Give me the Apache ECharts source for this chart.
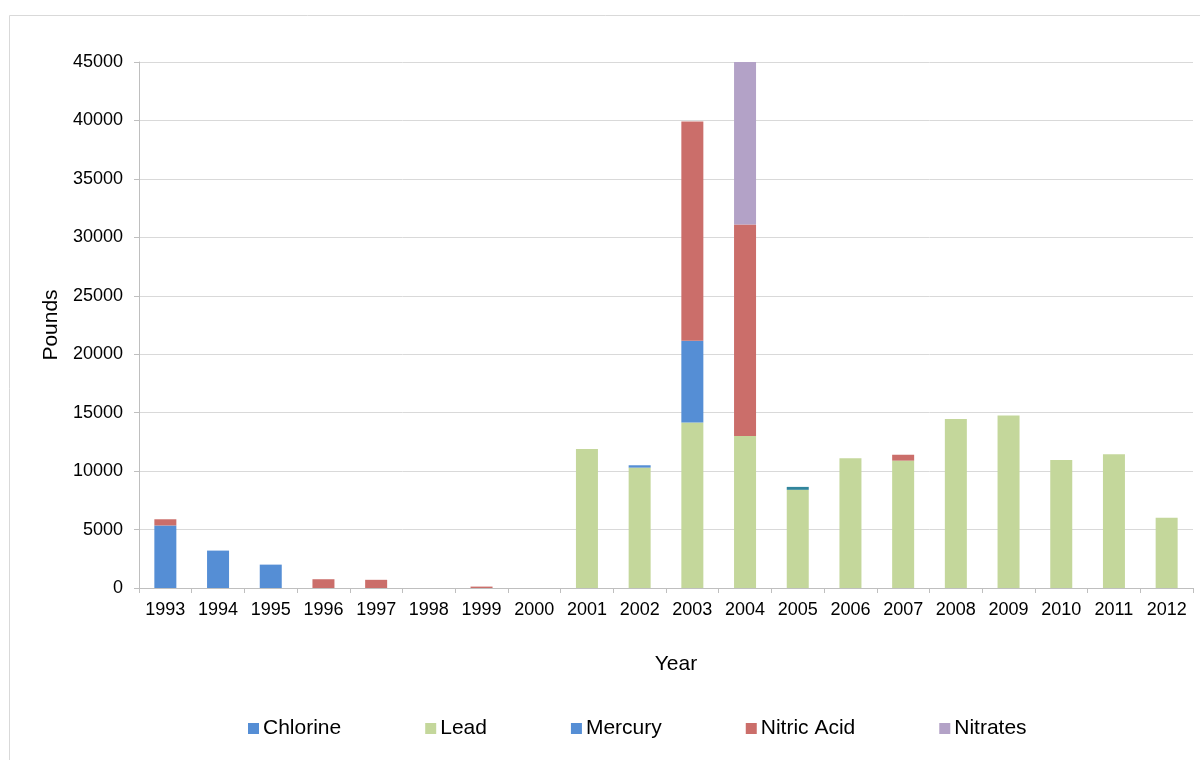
<!DOCTYPE html>
<html>
<head>
<meta charset="utf-8">
<script src="https://cdn.jsdelivr.net/npm/echarts@6/dist/echarts.min.js"></script>
<style>
html,body{margin:0;padding:0;background:#fff;}
#chart{width:1200px;height:760px;}
</style>
</head>
<body>
<div id="chart"></div>
<script>
const years = ['1993','1994','1995','1996','1997','1998','1999','2000','2001','2002','2003','2004','2005','2006','2007','2008','2009','2010','2011','2012'];
const chlorine = [5350,3200,2000,0,0,0,0,0,0,0,0,0,0,0,0,0,0,0,0,0];
const lead     = [0,0,0,0,0,0,0,0,11900,10300,14150,13000,8400,11100,10900,14450,14750,10950,11450,6000];
const mercury  = [0,0,0,0,0,0,0,0,0,200,7000,0,250,0,0,0,0,0,0,0];
const nitricAcid = [530,0,0,750,700,0,120,0,0,0,18750,18100,0,0,500,0,0,0,0,0];
const nitrates = [0,0,0,0,0,0,0,0,0,0,0,13900,0,0,0,0,0,0,0,0];
const yTicks = [0,5000,10000,15000,20000,25000,30000,35000,40000,45000];

const colors = {
  'Chlorine': '#558ED5',
  'Lead': '#C4D79B',
  'Mercury': '#558ED5',
  'Nitric Acid': '#CB6E6A',
  'Nitrates': '#B3A2C7'
};
const specialMercuryColor = {'2005': '#31859C'};

const chart = echarts.init(document.getElementById('chart'));
const font = 'Liberation Sans, Arial, sans-serif';

function mk(name, arr, special) {
  return {
    name: name,
    type: 'bar',
    stack: 'total',
    barWidth: 22,
    itemStyle: {color: colors[name]},
    emphasis: {disabled: true},
    data: arr.map((v, i) => {
      if (special && special[years[i]]) {
        return {value: v, itemStyle: {color: special[years[i]]}};
      }
      return v;
    })
  };
}

chart.setOption({
  animation: false,
  textStyle: {fontFamily: font},
  graphic: [{
    type: 'rect',
    shape: {x: 9.5, y: 15.5, width: 1200, height: 760},
    style: {fill: 'none', stroke: '#D9D9D9', lineWidth: 1},
    silent: true
  }],
  grid: {left: 139, right: 7, top: 62, bottom: 172, containLabel: false},
  legend: {
    left: 243,
    top: 713,
    itemWidth: 11,
    itemHeight: 11,
    itemGap: 84,
    icon: 'rect',
    textStyle: {fontSize: 21, color: '#000', fontFamily: font, padding: [0,0,0,-1]},
    data: ['Chlorine','Lead','Mercury','Nitric Acid','Nitrates']
  },
  xAxis: {
    type: 'category',
    data: years,
    name: 'Year',
    nameLocation: 'middle',
    nameGap: 66,
    nameTextStyle: {fontSize: 21, color: '#000', fontFamily: font, padding: [0,0,0,20]},
    axisLine: {show: true, lineStyle: {color: '#BFBFBF', width: 1}},
    axisTick: {show: true, alignWithLabel: false, length: 5, lineStyle: {color: '#BFBFBF'}},
    axisLabel: {fontSize: 18, color: '#000', margin: 13, interval: 0, fontFamily: font},
    splitLine: {show: false}
  },
  yAxis: {
    type: 'value',
    min: 0,
    max: 45000,
    interval: 5000,
    name: 'Pounds',
    nameLocation: 'middle',
    nameGap: 77,
    nameRotate: 90,
    nameTextStyle: {fontSize: 21, color: '#000', fontFamily: font},
    axisLine: {show: true, lineStyle: {color: '#BFBFBF', width: 1}},
    axisTick: {show: true, length: 5, lineStyle: {color: '#BFBFBF'}},
    axisLabel: {fontSize: 18, color: '#000', margin: 16, fontFamily: font,
      formatter: v => yTicks.indexOf(v) >= 0 ? String(v) : ''},
    splitLine: {show: true, lineStyle: {color: '#D9D9D9', width: 1}}
  },
  series: [
    mk('Chlorine', chlorine),
    mk('Lead', lead),
    mk('Mercury', mercury, specialMercuryColor),
    mk('Nitric Acid', nitricAcid),
    mk('Nitrates', nitrates)
  ]
});
</script>
</body>
</html>
